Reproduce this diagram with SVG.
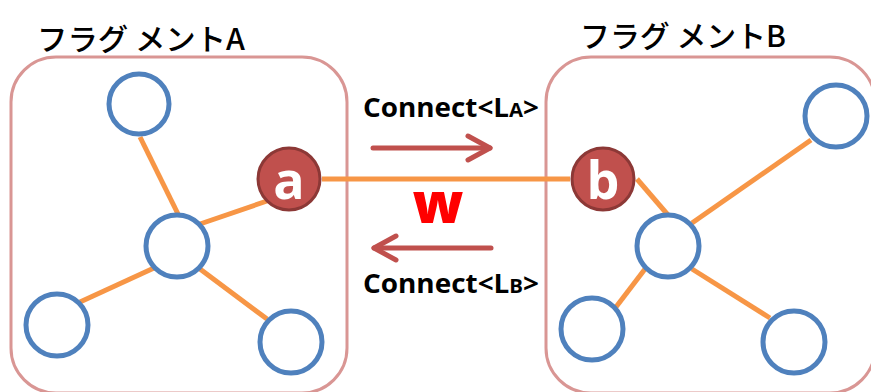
<svg xmlns="http://www.w3.org/2000/svg" width="871" height="392" viewBox="0 0 871 392">
<style>
.frag{fill:none;stroke:#d99694;stroke-width:3}
.node{fill:#fff;stroke:#4f81bd;stroke-width:5}
.port{fill:#c0504d;stroke:#8c3836;stroke-width:3}
.edge{stroke:#f79646;stroke-width:5;fill:none}
.arr{stroke:#c0504d;stroke-width:5;fill:none;stroke-linecap:round;stroke-linejoin:round}
.title{font-family:"Noto Sans CJK JP","Liberation Sans",sans-serif;font-size:30px;font-weight:500;fill:#000}
.lbl{font-family:"Open Sans","Liberation Sans",sans-serif;font-weight:bold;font-size:26px;fill:#000}
.sm{font-size:19px}
.pl{font-family:"Open Sans","Liberation Sans",sans-serif;font-weight:bold;fill:#fff;text-anchor:middle}
</style>
<rect width="871" height="392" fill="#fff"/>
<g id="fragmentA">
<rect class="frag" x="11" y="57" width="336" height="336" rx="45"/>
<text class="title" x="37" y="50" textLength="208" lengthAdjust="spacingAndGlyphs">フラグ メントA</text>
</g>
<g id="fragmentB">
<rect class="frag" x="546" y="57" width="329" height="336" rx="45"/>
<text class="title" x="580" y="47" textLength="206" lengthAdjust="spacingAndGlyphs">フラグ メントB</text>
</g>
<g id="connectors">
<line class="edge" x1="140" y1="137" x2="178" y2="214"/>
<line class="edge" x1="200" y1="224" x2="267" y2="201"/>
<line class="edge" x1="154" y1="268" x2="80" y2="302"/>
<line class="edge" x1="200" y1="269" x2="267" y2="319"/>
<line class="edge" x1="322" y1="179" x2="570" y2="179"/>
<line class="edge" x1="637" y1="179" x2="668" y2="215"/>
<line class="edge" x1="692" y1="223" x2="811" y2="140"/>
<line class="edge" x1="645" y1="269" x2="616" y2="307"/>
<line class="edge" x1="692" y1="269" x2="770" y2="318"/>
<g id="arrowLA">
<line class="arr" x1="373" y1="148" x2="490" y2="148"/>
<polyline class="arr" points="468,136 490,148 468,160"/>
</g>
<g id="arrowLB">
<line class="arr" x1="491" y1="248" x2="374" y2="248"/>
<polyline class="arr" points="396,236 374,248 396,260"/>
</g>
</g>
<g id="nodeA1"><circle class="node" cx="139" cy="104" r="30"/></g>
<g id="nodeA2"><circle class="node" cx="177" cy="246" r="31"/></g>
<g id="nodeA3"><circle class="node" cx="57" cy="325" r="31"/></g>
<g id="nodeA4"><circle class="node" cx="291" cy="342" r="31"/></g>
<g id="nodeAa"><circle class="port" cx="289" cy="179" r="31"/><text class="pl" x="289" y="199" font-size="52">a</text></g>
<g id="nodeBb"><circle class="port" cx="603" cy="179" r="31"/><text class="pl" x="603" y="199" font-size="52">b</text></g>
<g id="nodeB1"><circle class="node" cx="668" cy="246" r="31"/></g>
<g id="nodeB2"><circle class="node" cx="836" cy="116" r="31"/></g>
<g id="nodeB3"><circle class="node" cx="592" cy="329" r="31"/></g>
<g id="nodeB4"><circle class="node" cx="794" cy="342" r="31"/></g>
<g id="labels">
<text class="lbl" x="363" y="117" textLength="176" lengthAdjust="spacingAndGlyphs">Connect&lt;L<tspan class="sm">A</tspan>&gt;</text>
<text class="lbl" x="363" y="293" textLength="176" lengthAdjust="spacingAndGlyphs">Connect&lt;L<tspan class="sm">B</tspan>&gt;</text>
<text x="438" y="223" text-anchor="middle" font-family="'Open Sans','Liberation Sans',sans-serif" font-weight="800" font-size="56" fill="#ff0000">w</text>
</g>
</svg>
